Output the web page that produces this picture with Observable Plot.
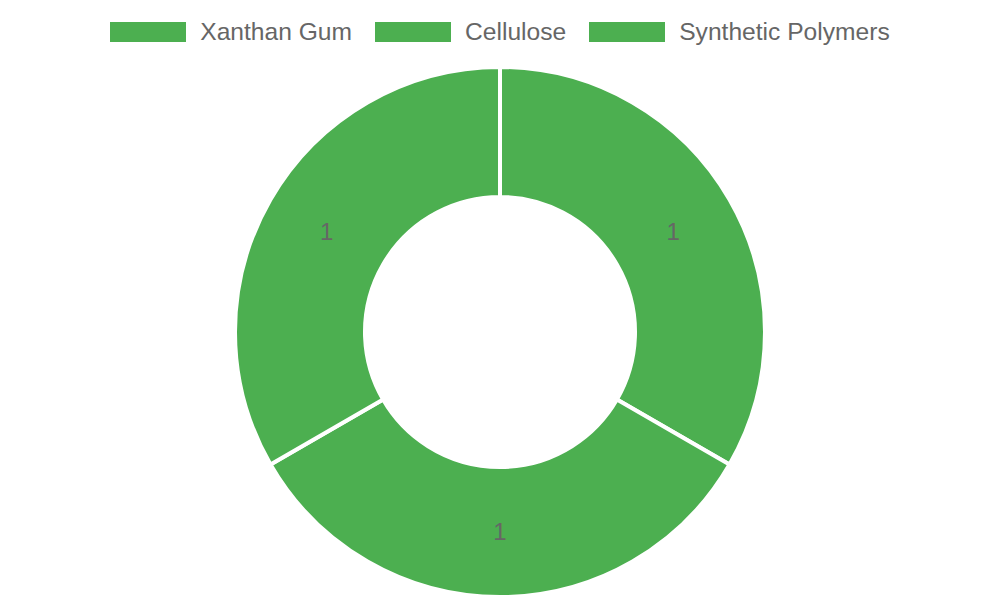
<!DOCTYPE html>
<html>
<head>
<meta charset="utf-8">
<script src="https://cdn.jsdelivr.net/npm/d3@7"></script>
<script src="https://cdn.jsdelivr.net/npm/@observablehq/plot@0.6"></script>
<style>
  html, body { margin: 0; padding: 0; background: #fff; }
  body { width: 1000px; height: 600px; overflow: hidden; font-family: "Liberation Sans", Arial, sans-serif; }
  #legend { height: 60px; display: flex; justify-content: center; align-items: flex-start; padding-top: 0; box-sizing: border-box; }
  .item { display: flex; align-items: center; margin: 0 11.5px; height: 64px; }
  .item .box { width: 76px; height: 20px; margin-right: 14px; }
  .item span { font-size: 24.6px; color: #666; line-height: 20px; }
</style>
</head>
<body>
<div id="legend"></div>
<div id="chart"></div>
<script>
const categories = ["Xanthan Gum", "Cellulose", "Synthetic Polymers"];
const values = [1, 1, 1];
const colors = ["#4caf50", "#4caf50", "#4caf50"];

const data = categories.map((c, i) => ({category: c, value: values[i]}));

// legend
const legend = document.getElementById("legend");
categories.forEach((c, i) => {
  const it = document.createElement("div");
  it.className = "item";
  it.innerHTML = `<div class="box" style="background:${colors[i]}"></div><span>${c}</span>`;
  legend.appendChild(it);
});

const W = 1000, H = 540;
const outerR = 265, innerR = 135;

function donut(index, scales, values_, dimensions) {
  const cx = dimensions.width / 2;
  const cy = 272;
  const pie = d3.pie().value(d => d.value).sort(null);
  const arcs = pie(data);
  const arc = d3.arc().innerRadius(innerR).outerRadius(outerR);
  const g = d3.create("svg:g").attr("transform", `translate(${cx},${cy})`);
  g.selectAll("path").data(arcs).join("path")
    .attr("d", arc)
    .attr("fill", d => scales.color(d.data.category))
    .attr("stroke", "#fff")
    .attr("stroke-width", 4)
    .attr("stroke-linejoin", "round");
  const labelArc = d3.arc().innerRadius((innerR + outerR) / 2).outerRadius((innerR + outerR) / 2);
  g.selectAll("text").data(arcs).join("text")
    .attr("transform", d => `translate(${labelArc.centroid(d)})`)
    .attr("text-anchor", "middle")
    .attr("dy", "0.35em")
    .attr("fill", "#666")
    .attr("font-size", 24)
    .attr("font-family", "Liberation Sans, Arial, sans-serif")
    .text(d => d.data.value);
  return g.node();
}

const plot = Plot.plot({
  width: W,
  height: H,
  margin: 0,
  x: {axis: null},
  y: {axis: null},
  color: {domain: categories, range: colors},
  marks: [donut]
});
document.getElementById("chart").appendChild(plot);
</script>
</body>
</html>
